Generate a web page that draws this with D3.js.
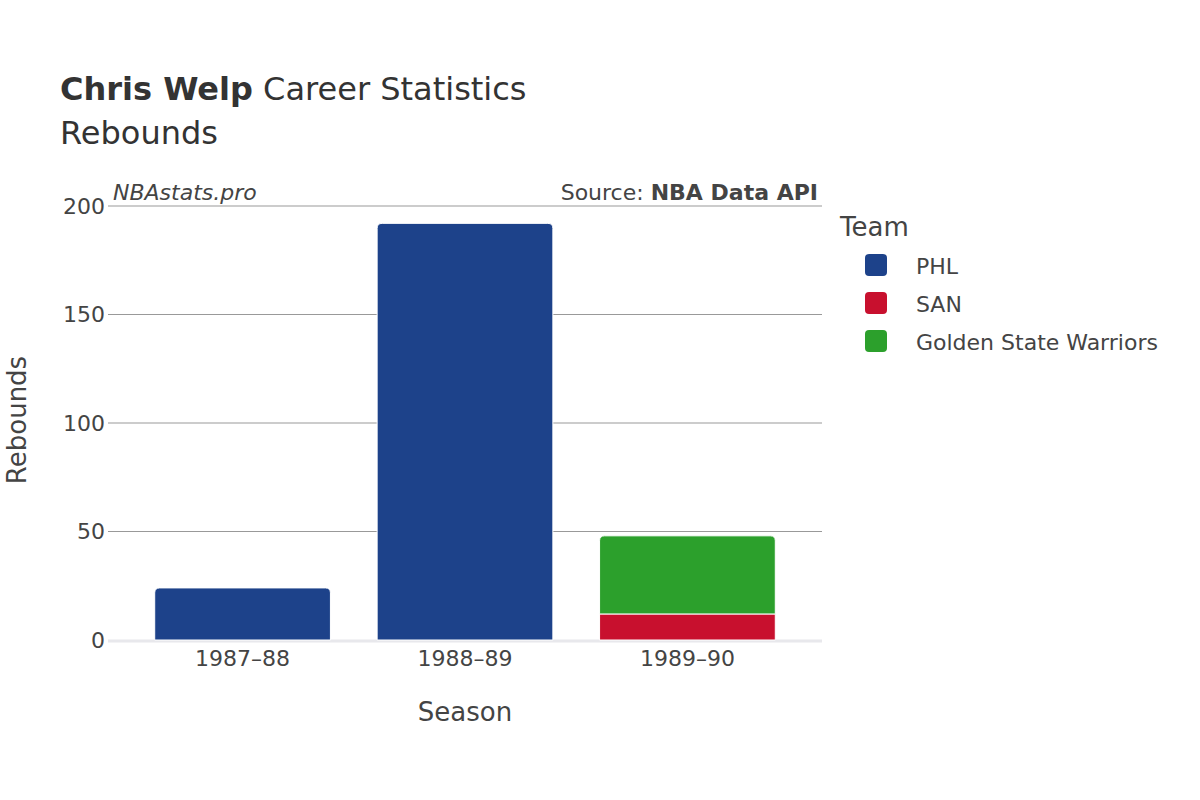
<!DOCTYPE html>
<html>
<head>
<meta charset="utf-8">
<script src="https://cdn.jsdelivr.net/npm/d3@7"></script>
<style>body{margin:0;background:#fff}text{font-family:"DejaVu Sans",sans-serif}</style>
</head>
<body>
<svg id="chart" width="1200" height="800"></svg>
<script>
const seasons = ["1987–88", "1988–89", "1989–90"];
const teams = ["PHL", "SAN", "Golden State Warriors"];
const colors = ["#1d428a", "#c8102e", "#2ca02c"];
// rebounds per team per season
const phl = [24, 192, 0];
const san = [0, 0, 12];
const gsw = [0, 0, 36];
const yTicks = [0, 50, 100, 150, 200];

const svg = d3.select("#chart");
const plotLeft = 108, plotRight = 822, plotTop = 206, plotBottom = 640;

const x = d3.scaleBand().domain(seasons).range([plotLeft, plotRight]).padding(0.21);
const y = d3.scaleLinear().domain([0, 200]).range([plotBottom, plotTop]);

// grid
svg.append("g").selectAll("line").data(yTicks.slice(1)).join("line")
    .attr("x1", plotLeft).attr("x2", plotRight)
    .attr("y1", d => y(d)).attr("y2", d => y(d))
    .attr("stroke", "#999").attr("stroke-width", 1);
svg.append("line").attr("x1", plotLeft).attr("x2", plotRight)
    .attr("y1", plotBottom + 1).attr("y2", plotBottom + 1)
    .attr("stroke", "#e8e8ec").attr("stroke-width", 3);

const yAxis = svg.append("g").attr("transform", `translate(${plotLeft - 3},0)`)
    .call(d3.axisLeft(y).tickValues(yTicks).tickSize(0).tickPadding(0));
yAxis.select(".domain").remove();
yAxis.selectAll("text").attr("font-size", 22).attr("fill", "#444");

const xAxis = svg.append("g").attr("transform", `translate(0,${plotBottom + 6})`)
    .call(d3.axisBottom(x).tickSize(0).tickPadding(0));
xAxis.select(".domain").remove();
xAxis.selectAll("text").attr("font-size", 22).attr("fill", "#444").attr("dy", "0.9em");

// stacked bars
const rows = seasons.map((s, i) => ({season: s, PHL: phl[i], SAN: san[i], "Golden State Warriors": gsw[i]}));
const stack = d3.stack().keys(teams)(rows);
stack.forEach((layer, k) => {
    layer.forEach(d => {
        if (d[1] - d[0] <= 0) return;
        const isTop = teams.slice(k + 1).every(t => d.data[t] === 0);
        const x0 = x(d.data.season), w = x.bandwidth();
        const y0 = y(d[0]), y1 = y(d[1]), r = isTop ? 5 : 0;
        const p = d3.path();
        p.moveTo(x0, y0);
        p.lineTo(x0, y1 + r);
        p.quadraticCurveTo(x0, y1, x0 + r, y1);
        p.lineTo(x0 + w - r, y1);
        p.quadraticCurveTo(x0 + w, y1, x0 + w, y1 + r);
        p.lineTo(x0 + w, y0);
        p.closePath();
        svg.append("path").attr("d", p.toString())
            .attr("fill", colors[k]).attr("stroke", "#fff").attr("stroke-width", 1);
    });
});

// titles
const title = svg.append("text").attr("x", 60).attr("y", 100).attr("font-size", 32).attr("fill", "#333");
title.append("tspan").attr("font-weight", "bold").text("Chris Welp");
title.append("tspan").text(" Career Statistics");
svg.append("text").attr("x", 60).attr("y", 144).attr("font-size", 32).attr("fill", "#333").text("Rebounds");

svg.append("text").attr("x", 113).attr("y", 200).attr("font-size", 22).attr("font-style", "italic")
    .attr("fill", "#444").text("NBAstats.pro");
const src = svg.append("text").attr("x", 818).attr("y", 200).attr("font-size", 22)
    .attr("text-anchor", "end").attr("fill", "#444");
src.append("tspan").text("Source: ");
src.append("tspan").attr("font-weight", "bold").text("NBA Data API");

svg.append("text").attr("x", 465).attr("y", 721).attr("font-size", 26).attr("text-anchor", "middle")
    .attr("fill", "#444").text("Season");
svg.append("text").attr("transform", "translate(26,420) rotate(-90)").attr("font-size", 26)
    .attr("text-anchor", "middle").attr("fill", "#444").text("Rebounds");

// legend
svg.append("text").attr("x", 840).attr("y", 236).attr("font-size", 26).attr("fill", "#444").text("Team");
const lg = svg.append("g").selectAll("g").data(teams).join("g")
    .attr("transform", (d, i) => `translate(865,${254 + i * 38})`);
lg.append("rect").attr("width", 22).attr("height", 22).attr("rx", 4)
    .attr("fill", (d, i) => colors[i]);
lg.append("text").attr("x", 51).attr("y", 20).attr("font-size", 22).attr("fill", "#444").text(d => d);
</script>
</body>
</html>
